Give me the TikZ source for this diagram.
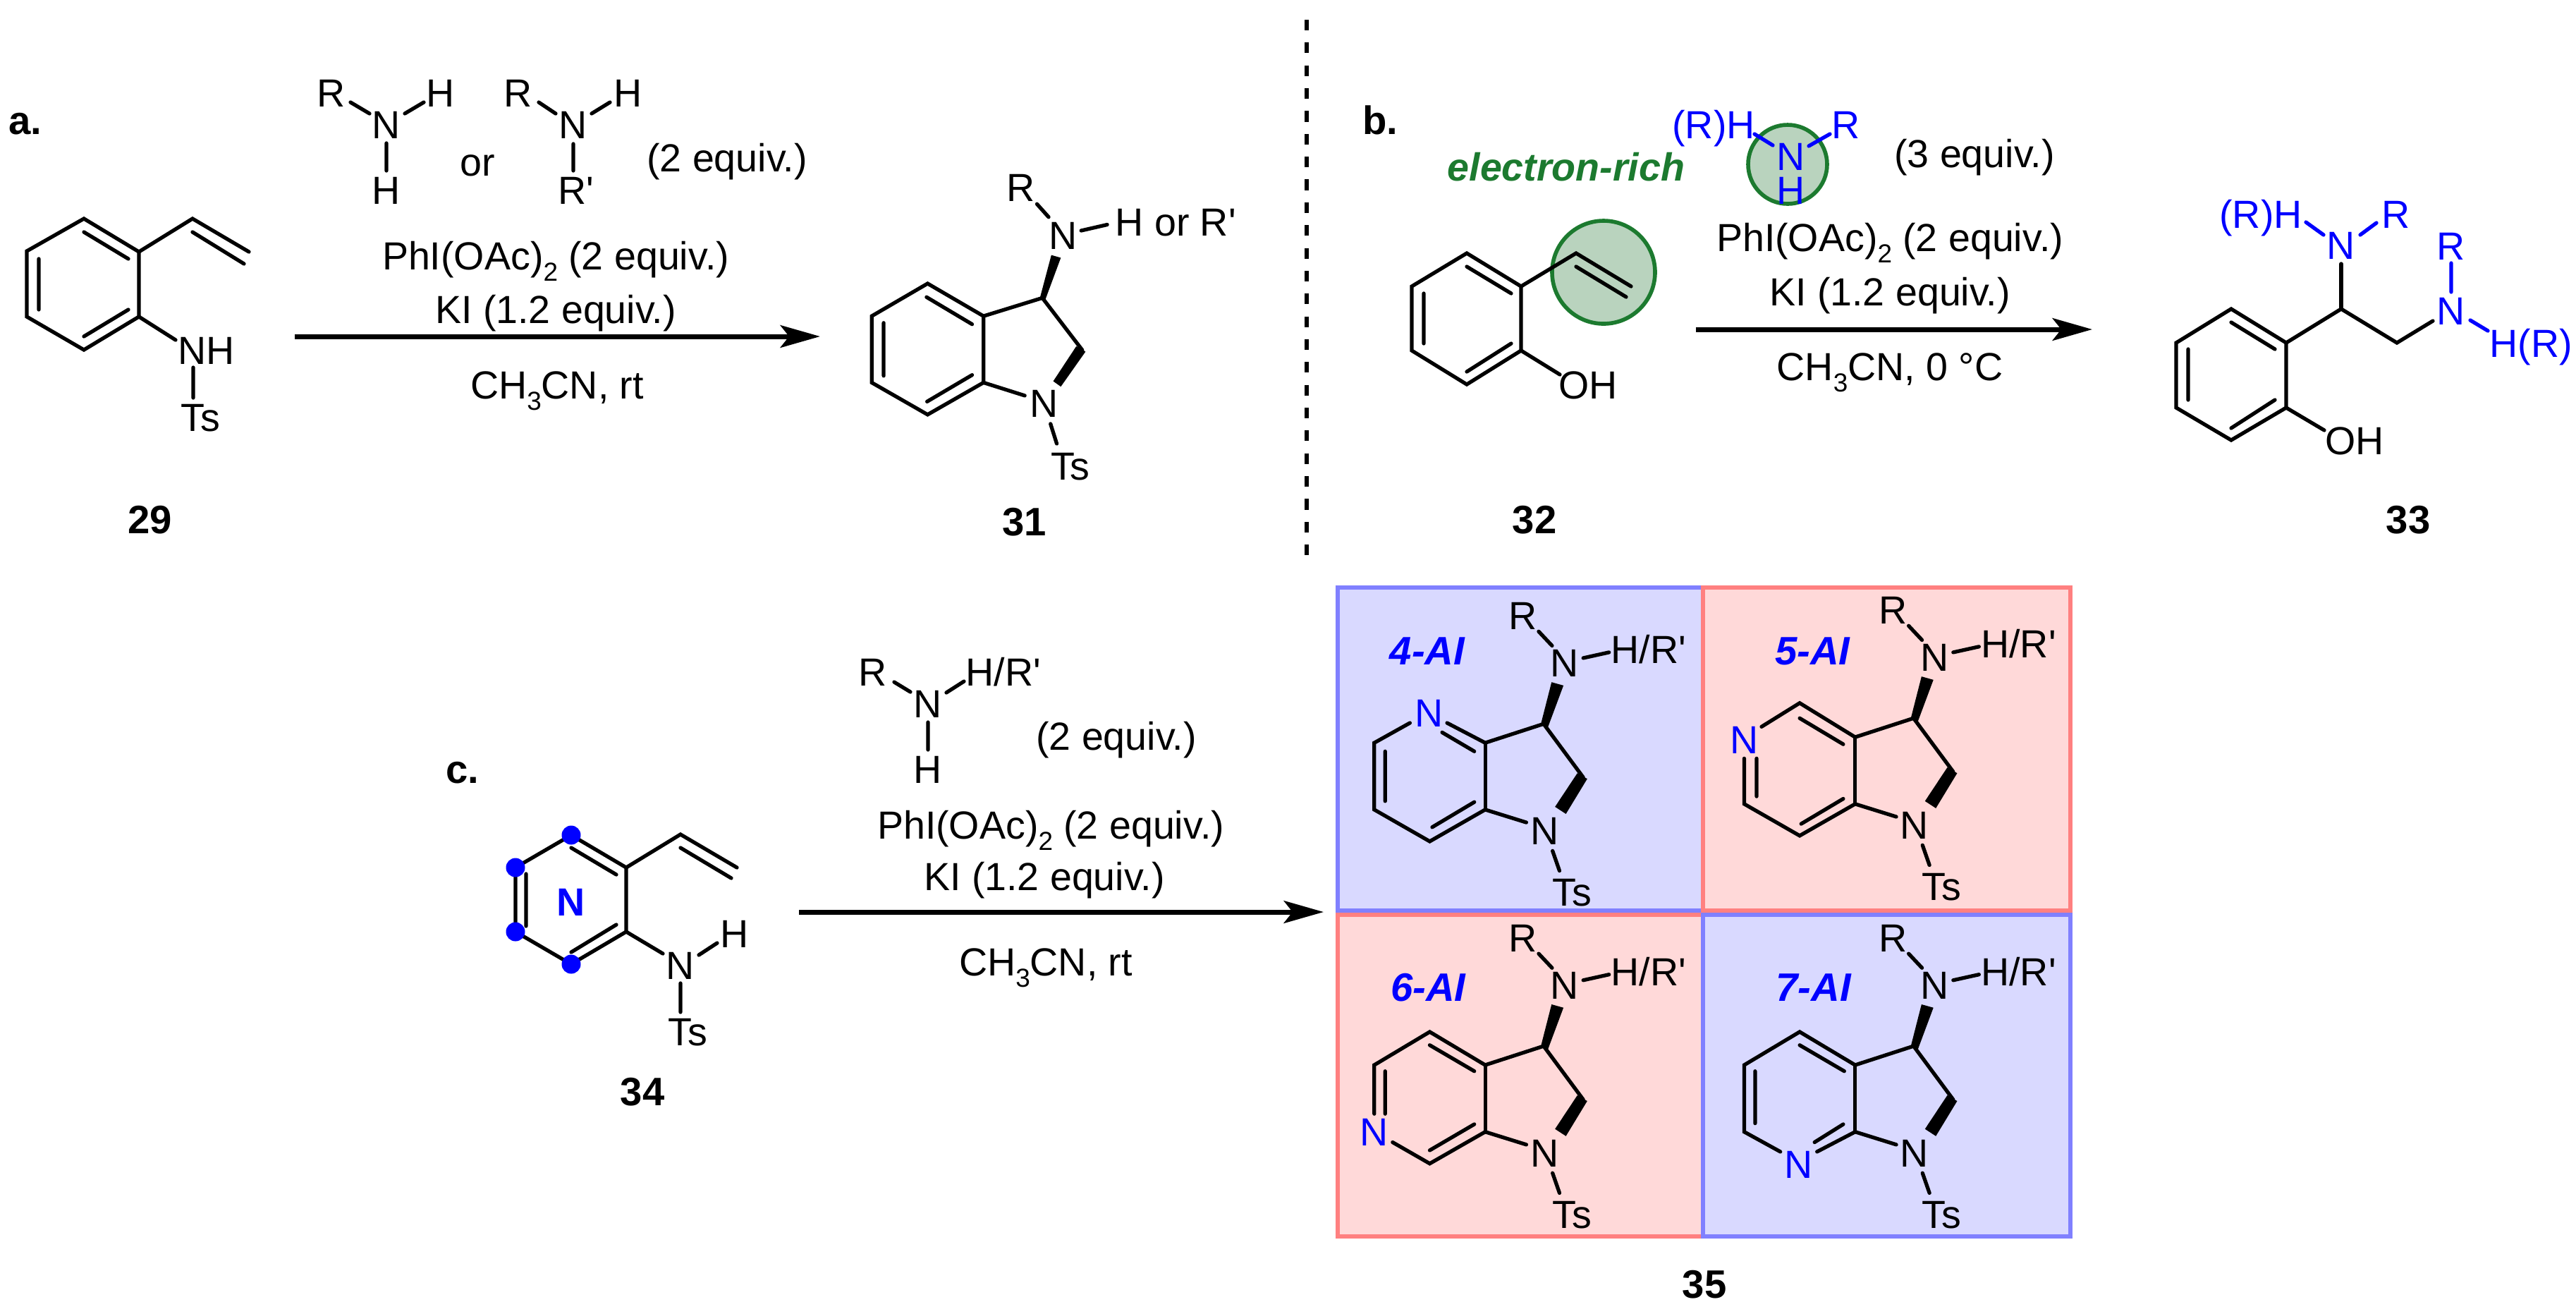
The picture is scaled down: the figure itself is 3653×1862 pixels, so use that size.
\documentclass[tikz,border=0pt]{standalone}
\usepackage{fontspec}
\setmainfont{Liberation Sans}
\usetikzlibrary{arrows.meta}
\definecolor{pblue}{HTML}{8080FF}
\definecolor{pbluef}{HTML}{D9D9FF}
\definecolor{pred}{HTML}{FF8080}
\definecolor{predf}{HTML}{FFD9D9}
\definecolor{grn}{HTML}{1C7A2F}
\definecolor{grnf}{HTML}{B9D3BE}
\newcommand\chemsub[1]{\raisebox{-.28em}{\fontsize{10.5}{10.5}\selectfont #1}}
\newcommand\pr{\textquotesingle}
\tikzset{
  txt/.style={inner sep=0pt,text height=11.3pt,text depth=0pt,font=\fontsize{15.8}{19}\selectfont},
  lab/.style={txt,font=\fontsize{16}{19}\selectfont\bfseries},
  ailab/.style={txt,font=\fontsize{16}{19}\selectfont\bfseries\itshape,text=blue},
  bond/.style={line width=1.5pt,line cap=round,line join=miter},
  bbond/.style={bond,blue},
  rxn/.style={line width=2pt,-{Stealth[length=16pt,width=9pt,inset=3.5pt]}},
  panelb/.style={draw=pblue,fill=pbluef,line width=1.5pt},
  panelr/.style={draw=pred,fill=predf,line width=1.5pt},
  hl/.style={draw=grn,fill=grnf,line width=1.6pt},
}
\newcommand\aicore{%
  \draw[bond] (322,362)--(322,503);
  \draw[bond] (322,362)--(440,322)--(520,435);
  \draw[bond] (322,503)--(405,530);
  \fill (434,324)--(456,234)--(480,241)--(449,328)--cycle;
  \fill (508,426)--(463,497)--(485,512)--(528,438)--cycle;
  \draw[bond] (458,590)--(472,632);
  \draw[bond] (430,127)--(457,157);
  \draw[bond] (520,183)--(572,171);
  \node[txt] at (482,193) {N};
  \node[txt] at (398,93) {R};
  \node[txt] at (652,165) {H/R\pr};
  \node[txt] at (442,547) {N};
  \node[txt] at (497,677) {Ts};
}
\begin{document}
\begin{tikzpicture}[x=0.01cm,y=-0.01cm]
\useasboundingbox (0,0) rectangle (3653,1862);
\fill[white] (0,0) rectangle (3653,1862);
% divider
\draw[line width=1.7pt,dash pattern=on 4.3pt off 4.9pt] (1853,28)--(1853,787);
% ---------- a
\node[lab] (la) at (36,171) {a.};
\draw[bond] (119,310)--(197,357)--(197,449)--(119,496)--(38,449)--(38,356)--cycle;
\draw[bond] (119,329)--(182,367) (55,367)--(55,439) (119,477)--(182,439);
\draw[bond] (197,357)--(273,310)--(353,357) (273,329)--(346,374);
\draw[bond] (197,449)--(249,482) (274,521)--(274,564);
\node[txt] (n29) at (293,497) {NH};
\node[txt] (ts29) at (284,592) {Ts};
\node[lab] (c29) at (213,737) {29};
\node[txt] at (470,132) {R};
\node[txt] at (625,132) {H};
\node[txt] at (548,177) {N};
\node[txt] at (548,270) {H};
\draw[bond] (497,145)--(524,161) (601,145)--(574,161) (548,203)--(548,242);
\node[txt] at (677,230) {or};
\node[txt] at (735,132) {R};
\node[txt] at (891,132) {H};
\node[txt] at (813,177) {N};
\node[txt] at (817,270) {R\pr};
\draw[bond] (764,145)--(788,161) (865,145)--(839,161) (813,204)--(813,242);
\node[txt] at (1031,224) {(2 equiv.)};
\node[txt] at (788,363) {PhI(OAc)\chemsub{2} (2 equiv.)};
\node[txt] at (788,439) {KI (1.2 equiv.)};
\coordinate (a0) at (418,477); \coordinate (a1) at (1163,477);
\draw[rxn] (a0)--(a1);
\node[txt] at (790,546) {CH\chemsub{3}CN, rt};
% ---------- 31
\begin{scope}[shift={(1180,200)},x=0.00385cm,y=-0.00385cm]
\draw[bond] (558,645)--(352,525)--(146,645)--(146,890)--(352,1008)--(558,890)--cycle;
\draw[bond] (348,575)--(516,675) (190,670)--(190,865) (350,960)--(516,862);
\draw[bond] (558,645)--(775,578)--(922,770);
\draw[bond] (558,890)--(710,938);
\fill (766,578)--(808,420)--(843,430)--(786,584)--cycle;
\fill (900,756)--(815,885)--(843,905)--(934,776)--cycle;
\draw[bond] (805,1042)--(828,1115) (755,232)--(798,280) (918,330)--(1014,308);
\node[txt] at (695,170) {R};
\node[txt,anchor=west] at (1042,297) {H or R\pr};
\node[txt] at (852,347) {N};
\node[txt] at (780,965) {N};
\node[txt] at (878,1197) {Ts};
\node[lab] at (708,1402) {31};
\end{scope}
% ---------- b
\node[lab] at (1957,171) {b.};
\draw[hl] (2274,386) circle (73);
\draw[hl] (2535,233) circle (56);
\draw[bond] (2080,359)--(2157,406)--(2157,497)--(2080,545)--(2002,497)--(2002,406)--cycle;
\draw[bond] (2080,378)--(2143,416) (2019,416)--(2019,487) (2080,527)--(2143,487);
\draw[bond] (2157,406)--(2235,359)--(2313,406) (2235,378)--(2306,421);
\draw[bond] (2157,497)--(2212,531);
\node[txt] at (2252,546) {OH};
\node[lab] at (2176,737) {32};
\node[txt,font=\fontsize{15.8}{19}\selectfont\bfseries\itshape,text=grn] at (2221,237) {electron-rich};
\node[txt,text=blue] at (2430,177) {(R)H};
\node[txt,text=blue] at (2618,177) {R};
\node[txt,text=blue] at (2540,222) {N};
\node[txt,text=blue] at (2540,270) {H};
\draw[bbond] (2488,190)--(2514,206) (2595,190)--(2565,207);
\node[txt] at (2800,218) {(3 equiv.)};
\node[txt] at (2680,337) {PhI(OAc)\chemsub{2} (2 equiv.)};
\node[txt] at (2680,414) {KI (1.2 equiv.)};
\coordinate (b0) at (2405,467); \coordinate (b1) at (2967,467);
\draw[rxn] (b0)--(b1);
\node[txt] at (2680,520) {CH\chemsub{3}CN, 0 °C};
% 33
\draw[bond] (3164,438)--(3242,486)--(3242,578)--(3164,624)--(3086,578)--(3086,486)--cycle;
\draw[bond] (3164,457)--(3226,495) (3103,495)--(3103,567) (3164,607)--(3226,567);
\draw[bond] (3242,578)--(3296,610);
\node[txt] at (3339,625) {OH};
\draw[bond] (3242,486)--(3320,438)--(3399,486)--(3450,455);
\draw[bond] (3320,438)--(3320,374);
\node[txt,text=blue] at (3320,348) {N};
\node[txt,text=blue] at (3206,304) {(R)H};
\node[txt,text=blue] at (3398,304) {R};
\draw[bbond] (3270,315)--(3295,333) (3370,316)--(3347,333);
\node[txt,text=blue] at (3476,441) {N};
\node[txt,text=blue] at (3476,349) {R};
\node[txt,text=blue] at (3589,487) {H(R)};
\draw[bbond] (3476,373)--(3476,414) (3503,454)--(3528,469);
\node[lab] at (3415,737) {33};
% ---------- c
\node[lab] at (656,1091) {c.};
\draw[bond] (810,1184)--(888,1230)--(888,1321)--(810,1367)--(731,1321)--(731,1230)--cycle;
\draw[bond] (810,1202)--(874,1240) (746,1239)--(746,1313) (810,1350)--(874,1311);
\draw[bond] (888,1230)--(965,1183)--(1045,1230) (965,1202)--(1037,1245);
\draw[bond] (888,1321)--(940,1352) (991,1354)--(1017,1337) (965,1394)--(965,1435);
\node[txt] at (965,1369) {N};
\node[txt] at (1042,1324) {H};
\node[txt] at (975,1463) {Ts};
\node[txt,font=\fontsize{15.8}{19}\selectfont\bfseries,text=blue] at (810,1279) {N};
\fill[blue] (810,1184) circle (13.5) (731,1230) circle (13.5) (731,1321) circle (13.5) (810,1367) circle (13.5);
\node[lab] at (911,1548) {34};
\node[txt] at (1238,953) {R};
\node[txt] at (1423,953) {H/R\pr};
\node[txt] at (1316,998) {N};
\node[txt] at (1316,1091) {H};
\draw[bond] (1268,967)--(1291,981) (1367,966)--(1342,982) (1316,1024)--(1316,1063);
\node[txt] at (1583,1044) {(2 equiv.)};
\node[txt] at (1490,1170) {PhI(OAc)\chemsub{2} (2 equiv.)};
\node[txt] at (1481,1243) {KI (1.2 equiv.)};
\coordinate (c0) at (1133,1293); \coordinate (c1) at (1877,1293);
\draw[rxn] (c0)--(c1);
\node[txt] at (1483,1364) {CH\chemsub{3}CN, rt};
% ---------- panels
\draw[panelb] (1897,833) rectangle (2415,1291);
\draw[panelr] (2415,833) rectangle (2936,1291);
\draw[panelr] (1897,1297) rectangle (2415,1753);
\draw[panelb] (2415,1297) rectangle (2936,1753);
\begin{scope}[shift={(1880,810)},x=0.007015cm,y=-0.00671cm]
% panel 1
\aicore
\node[ailab] at (205,168) {4-AI};
\draw[bond] (170,320)--(98,362)--(98,503)--(210,570)--(322,503);
\draw[bond] (245,320)--(322,362) (235,340)--(300,380) (120,380)--(120,485) (215,540)--(300,487);
\node[txt,text=blue] at (208,298) {N};
% panel 2
\begin{scope}[shift={(747,-12)}]
\aicore
\node[ailab] at (236,180) {5-AI};
\draw[bond] (133,340)--(210,290)--(322,362) (322,503)--(210,570)--(98,503)--(98,407);
\draw[bond] (210,322)--(298,377) (123,407)--(123,487) (213,545)--(298,492);
\node[txt,text=blue] at (98,367) {N};
\end{scope}
% panel 3
\begin{scope}[shift={(0,680)}]
\aicore
\node[ailab] at (207,197) {6-AI};
\draw[bond] (98,465)--(98,362)--(210,292)--(322,362) (322,503)--(210,570)--(135,525);
\draw[bond] (210,320)--(300,375) (120,375)--(120,465) (210,542)--(300,487);
\node[txt,text=blue] at (97,503) {N};
\end{scope}
% panel 4
\begin{scope}[shift={(747,680)}]
\aicore
\node[ailab] at (238,197) {7-AI};
\draw[bond] (171,545)--(98,503)--(98,362)--(210,292)--(322,362) (245,545)--(322,503);
\draw[bond] (120,375)--(120,485) (210,320)--(300,375) (240,525)--(298,487);
\node[txt,text=blue] at (208,572) {N};
\end{scope}
\end{scope}
\node[lab] at (2417,1821) {35};
\end{tikzpicture}
\end{document}
